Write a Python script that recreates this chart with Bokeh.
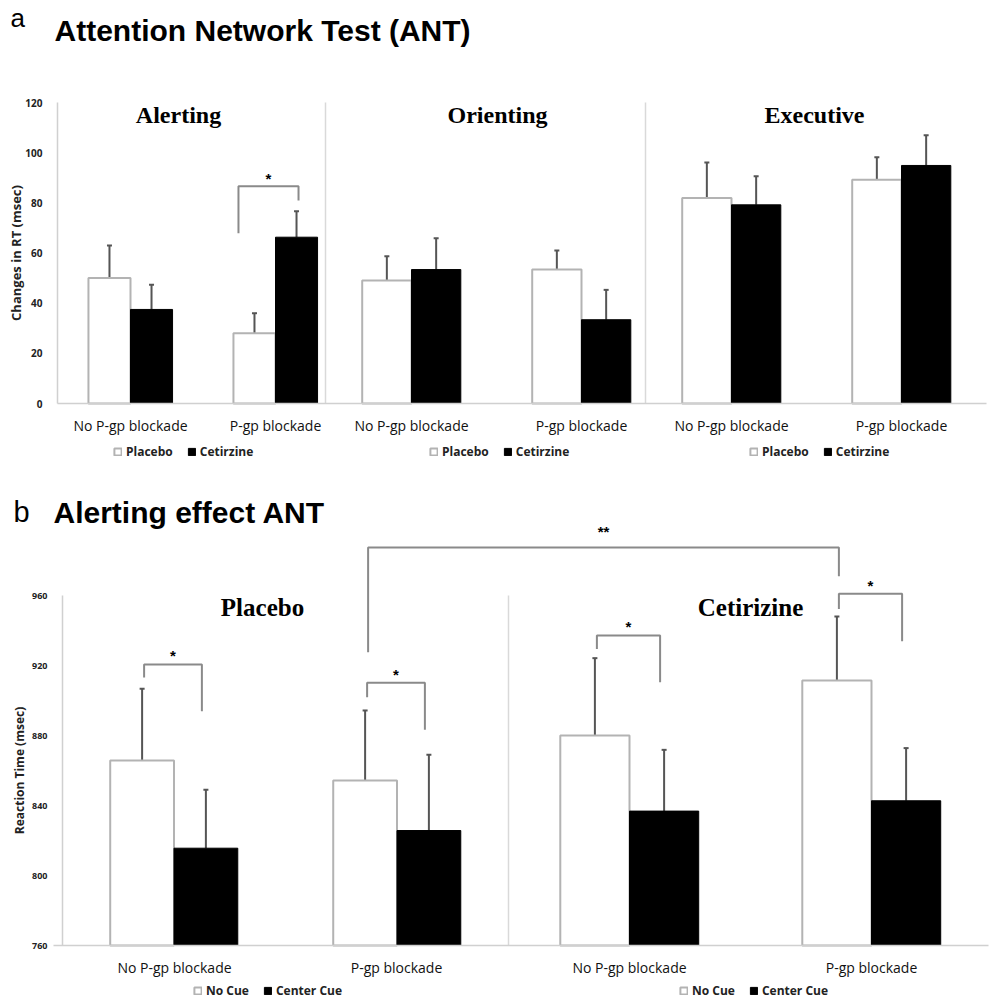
from bokeh.plotting import figure
from bokeh.models import (Range1d, FixedTicker, Whisker, TeeHead, ColumnDataSource,
                          Legend, LegendItem, Label)
from bokeh.layouts import column
from bokeh.embed import file_html
from bokeh.resources import INLINE
from bokeh.core.properties import value

# ---------------- data: panel a ----------------
a_panels = ["Alerting", "Orienting", "Executive"]
a_groups = ["No P-gp blockade", "P-gp blockade"]
a_series = ["Placebo", "Cetirzine"]
a_placebo = [[50.0, 28.0], [49.0, 53.4], [81.9, 89.2]]
a_placebo_err = [[13.0, 8.0], [9.7, 7.6], [14.2, 9.0]]
a_cetirizine = [[37.5, 66.3], [53.4, 33.4], [79.2, 94.9]]
a_cetirizine_err = [[9.8, 10.3], [12.5, 11.9], [11.4, 12.0]]
a_yticks = [0, 20, 40, 60, 80, 100, 120]
# significance: (panel, group, bracket top, left leg bottom, right leg bottom, mark)
a_sig = [(0, 1, 86.6, 67.9, 80.9, "*")]

# ---------------- data: panel b ----------------
b_panels = ["Placebo", "Cetirizine"]
b_groups = ["No P-gp blockade", "P-gp blockade"]
b_series = ["No Cue", "Center Cue"]
b_nocue = [[865.7, 854.3], [880.0, 911.4]]
b_nocue_err = [[41.0, 40.0], [44.2, 36.6]]
b_center = [[815.6, 825.7], [836.8, 842.7]]
b_center_err = [[33.4, 43.3], [35.0, 30.1]]
b_yticks = [760, 800, 840, 880, 920, 960]
b_sig = [(0, 0, 920.6, 913.1, 893.9, "*"), (0, 1, 910.1, 901.9, 883.3, "*"),
         (1, 0, 937.1, 929.5, 910.5, "*"), (1, 1, 961.0, 952.3, 933.9, "*")]
# long bracket between placebo/P-gp (No Cue) and cetirizine/P-gp (No Cue)
b_sig_long = (987.4, 927.6, 971.0, "**")

# ---------------- layout constants ----------------
W = 989
H1, H2 = 495, 510
GRAY_AX = "#d0d0d0"
BRACKET = "#8a8a8a"
ERR = "#555555"
SANS = "Open Sans"
SERIF = "Liberation Serif"
HEAD = "Liberation Sans"

# page pixel -> data helpers (figure a: page 0..495, figure b: page 495..1005)
def ya(py):
    return (403 - py) / (301 / 120)

def yb(py):
    return 760 + (945 - py) / 1.75


def style_common(p):
    p.outline_line_color = None
    p.xgrid.visible = False
    p.ygrid.visible = False
    p.background_fill_color = "white"
    p.border_fill_color = "white"


def style_axes(p, yticks, ybounds, xbounds, ylabel, ysize, ylab_size, ylab_standoff,
               centers, groups):
    ya_ = p.yaxis[0]
    ya_.fixed_location = 0
    ya_.ticker = FixedTicker(ticks=yticks)
    ya_.bounds = ybounds
    ya_.axis_line_color = GRAY_AX
    ya_.axis_line_width = 1.5
    ya_.major_tick_line_color = None
    ya_.minor_tick_line_color = None
    ya_.major_label_text_font = SANS
    ya_.major_label_text_font_style = "bold"
    ya_.major_label_text_font_size = ysize
    ya_.major_label_text_color = "#222222"
    ya_.major_label_standoff = 9
    ya_.axis_label = ylabel
    ya_.axis_label_text_font = SANS
    ya_.axis_label_text_font_style = "bold"
    ya_.axis_label_text_font_size = ylab_size
    ya_.axis_label_text_color = "#222222"
    ya_.axis_label_standoff = ylab_standoff
    xa_ = p.xaxis[0]
    xa_.fixed_location = ybounds[0]
    xa_.bounds = xbounds
    ticks = []
    overrides = {}
    for pc in centers:
        for gi, c in enumerate(pc):
            t = int(round(c))
            ticks.append(t)
            overrides[t] = groups[gi]
    xa_.ticker = FixedTicker(ticks=ticks)
    xa_.major_label_overrides = overrides
    xa_.axis_line_color = GRAY_AX
    xa_.axis_line_width = 1.5
    xa_.major_tick_line_color = None
    xa_.minor_tick_line_color = None
    xa_.major_label_text_font = SANS
    xa_.major_label_text_font_size = "14px"
    xa_.major_label_text_color = "#111111"
    xa_.major_label_standoff = 6


def add_bars(p, lefts, widths, s1, e1, s2, e2, base, bar_frac):
    centers, x1, x2, bw = [], [], [], []
    for i, (l, w) in enumerate(zip(lefts, widths)):
        cs = [l + w * 0.25, l + w * 0.75]
        centers.append(cs)
        for c in cs:
            b = w * bar_frac
            x1.append(c - b / 2)
            x2.append(c + b / 2)
            bw.append(b)
    v1 = [v for row in s1 for v in row]
    v2 = [v for row in s2 for v in row]
    u1 = [v + e for row, erow in zip(s1, e1) for v, e in zip(row, erow)]
    u2 = [v + e for row, erow in zip(s2, e2) for v, e in zip(row, erow)]
    src1 = ColumnDataSource(dict(x=x1, top=v1, w=bw, upper=u1))
    src2 = ColumnDataSource(dict(x=x2, top=v2, w=bw, upper=u2))
    r1 = p.vbar(x="x", top="top", bottom=base, width="w", source=src1,
                fill_color="white", line_color="#b3b3b3", line_width=2)
    r2 = p.vbar(x="x", top="top", bottom=base, width="w", source=src2,
                fill_color="black", line_color="black", line_width=1)
    for src in (src1, src2):
        p.add_layout(Whisker(source=src, base="x", upper="upper", lower="top",
                             dimension="height", line_color=ERR, line_width=2,
                             upper_head=TeeHead(size=5, line_color=ERR, line_width=2),
                             lower_head=None))
    return centers, x1, x2, r1, r2


def add_legend(p, r1, r2, labels, x, y):
    leg = Legend(items=[LegendItem(label=labels[0], renderers=[r1]),
                        LegendItem(label=labels[1], renderers=[r2])],
                 location=(x, y), orientation="horizontal",
                 glyph_width=9, glyph_height=9, label_height=12,
                 label_standoff=4, spacing=14, padding=0, margin=0,
                 border_line_color=None, background_fill_alpha=0,
                 label_text_font=SANS, label_text_font_style="bold",
                 label_text_font_size="12px", label_text_color="#222222")
    p.add_layout(leg)


def bracket(p, xl, xr, top, lb, rb, mark, star_y, size="15px"):
    p.line(x=[xl, xl, xr, xr], y=[lb, top, top, rb], line_color=BRACKET, line_width=2)
    p.text(x=[(xl + xr) / 2], y=[star_y], text=[mark], text_align="center",
           text_baseline="middle", text_font=value(HEAD), text_font_style="bold",
           text_font_size=size, text_color="black")


# ================= Figure a =================
p1 = figure(width=W, height=H1, x_range=Range1d(-57, W - 57),
            y_range=Range1d(ya(H1), ya(0)),
            output_backend="svg", toolbar_location=None, min_border=0,
            min_border_left=0, min_border_right=0, min_border_top=0, min_border_bottom=0)
style_common(p1)
a_left = [0.5, 269, 589]
a_width = [290, 340, 340]
a_centers, ax1, ax2, ar1, ar2 = add_bars(p1, a_left, a_width, a_placebo, a_placebo_err,
                                         a_cetirizine, a_cetirizine_err, 0, 0.145)
style_axes(p1, a_yticks, (0, 120), (0, 929), "Changes in RT (msec)", "10px", "13px", -3,
           a_centers, a_groups)
# panel dividers
p1.segment(x0=[a_left[1] - 1, a_left[2] - 1], y0=[0, 0],
           x1=[a_left[1] - 1, a_left[2] - 1], y1=[a_yticks[-1]] * 2,
           line_color="#d9d9d9", line_width=1.5)
# panel titles
a_title_x = [121, 440, 757]
p1.text(x=a_title_x, y=[ya(127)] * 3, text=a_panels, text_align="center",
        text_font=value(SERIF), text_font_style="bold", text_font_size="24px",
        text_color="black")
for (pi, gi, top, lb, rb, mark) in a_sig:
    k = pi * 2 + gi
    bracket(p1, ax1[k] - 16, ax2[k] + 2, top, lb, rb, mark, top + 3)
# legends (screen px from the figure's bottom-left)
for lx in [113, 429, 749]:
    add_legend(p1, ar1, ar2, a_series, lx, 35)
# headings
p1.add_layout(Label(x=-47, y=ya(17), text="a", text_font=HEAD, text_font_size="26px",
                    text_baseline="alphabetic", text_color="black"))
p1.add_layout(Label(x=-3, y=ya(30), text="Attention Network Test (ANT)", text_font=HEAD,
                    text_font_style="bold", text_font_size="30px",
                    text_baseline="alphabetic", text_color="black"))

# ================= Figure b =================
p2 = figure(width=W, height=H2, x_range=Range1d(-62, W - 62),
            y_range=Range1d(yb(H1 + H2), yb(H1)),
            output_backend="svg", toolbar_location=None, min_border=0,
            min_border_left=0, min_border_right=0, min_border_top=0, min_border_bottom=0)
style_common(p2)
b_left = [0, 446]
b_width = [446, 484]
b_centers, bx1, bx2, br1, br2 = add_bars(p2, b_left, b_width, b_nocue, b_nocue_err,
                                         b_center, b_center_err, 760, 0.143)
style_axes(p2, b_yticks, (760, 960), (-9, 926), "Reaction Time (msec)", "9px", "12px", 1,
           b_centers, b_groups)
p2.segment(x0=[b_left[1]], y0=[760], x1=[b_left[1]], y1=[b_yticks[-1]],
           line_color="#d9d9d9", line_width=1.5)
b_title_x = [200, 688]
p2.text(x=b_title_x, y=[yb(620)] * 2, text=b_panels, text_align="center",
        text_font=value(SERIF), text_font_style="bold", text_font_size="25px",
        text_color="black")
for (pi, gi, top, lb, rb, mark) in b_sig:
    k = pi * 2 + gi
    bracket(p2, bx1[k] + 2, bx2[k] - 4, top, lb, rb, mark, top + 5)
top, lb, rb, mark = b_sig_long
bracket(p2, bx1[1] + 3, bx1[3] + 2, top, lb, rb, mark, top + 9)
for lx in [193, 679]:
    add_legend(p2, br1, br2, b_series, lx, 6)
p2.add_layout(Label(x=-49, y=yb(511), text="b", text_font=HEAD, text_font_size="29px",
                    text_baseline="alphabetic", text_color="black"))
p2.add_layout(Label(x=-9, y=yb(512), text="Alerting effect ANT", text_font=HEAD,
                    text_font_style="bold", text_font_size="30px",
                    text_baseline="alphabetic", text_color="black"))

layout = column(p1, p2, spacing=0)
open("out.html", "w").write(file_html(layout, INLINE))
